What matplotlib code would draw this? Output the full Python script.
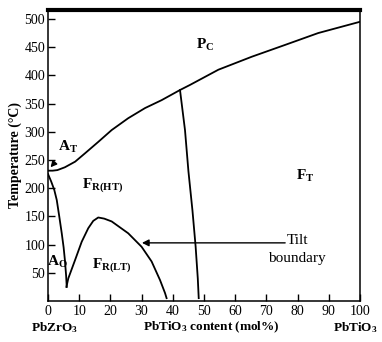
import numpy as np
import matplotlib.pyplot as plt

plt.rcParams['font.family'] = 'Liberation Serif'
plt.rcParams['mathtext.fontset'] = 'custom'
plt.rcParams['mathtext.rm'] = 'Liberation Serif:bold'
plt.rcParams['mathtext.bf'] = 'Liberation Serif:bold'
plt.rcParams['mathtext.it'] = 'Liberation Serif:bold'
plt.rcParams['mathtext.default'] = 'bf'

# phase boundaries (x: mol% PbTiO3, y: temperature in C)
curie_x = [0, 1.5, 3, 5.4, 8.7, 11.9, 16.1, 20.4, 25.7, 31.1, 36.4, 42.3,
           45.5, 54.6, 65.3, 76, 86.6, 100]
curie_y = [231, 231, 232, 237, 247, 262, 282, 303, 324, 342, 356, 374,
           383, 410, 433, 454, 475, 495]

ao_x = [0, 1, 2, 2.8, 3.6, 4.4, 5.0, 5.4, 5.8, 6.0]
ao_y = [225, 212, 197, 179, 150, 120, 95, 73, 45, 25]

tilt_x = [5.9, 6.5, 8.7, 10.8, 12.9, 14.5, 16.1, 18, 20.4, 25.7, 30, 33.2, 35.9, 37.5, 38.0]
tilt_y = [25, 40, 73, 105, 129, 142, 148, 146, 141, 120, 96, 70, 37, 14, 5]

mpb_x = [42.3, 43.9, 45.0, 46.3, 47.3, 48.0, 48.3]
mpb_y = [374, 303, 230, 160, 97, 40, 5]

xticks = np.arange(0, 101, 10)
yticks = np.arange(50, 501, 50)

fig = plt.figure(figsize=(3.82, 3.42), dpi=100)
ax = fig.add_axes([0.1257, 0.12, 0.8168, 0.851])

lw = 1.3
for xs, ys in [(curie_x, curie_y), (ao_x, ao_y), (tilt_x, tilt_y), (mpb_x, mpb_y)]:
    ax.plot(xs, ys, 'k-', lw=lw, solid_joinstyle='round')

ax.set_xlim(0, 100)
ax.set_ylim(0, 516)
ax.set_xticks(xticks)
ax.set_yticks(yticks)
ax.tick_params(direction='in', length=5, width=1, labelsize=10)
ax.tick_params(axis='x', pad=3)
ax.tick_params(axis='y', pad=2)
for s in ['left', 'bottom', 'right']:
    ax.spines[s].set_linewidth(1.1)
ax.spines['top'].set_linewidth(3)

ax.set_ylabel('Temperature (°C)', fontsize=10, fontweight='bold', labelpad=2)

# composition labels under the axis
tr = ax.get_xaxis_transform()
yb = -0.092
ax.text(2, yb, 'PbZrO$_3$', transform=tr, ha='center', va='center',
        fontsize=9.5, fontweight='bold')
ax.text(52.4, yb, 'PbTiO$_3$ content (mol%)', transform=tr, ha='center', va='center',
        fontsize=9.5, fontweight='bold')
ax.text(98.5, yb, 'PbTiO$_3$', transform=tr, ha='center', va='center',
        fontsize=9.5, fontweight='bold')

# phase field labels
fs = 11
lab = dict(ha='center', va='center', fontsize=fs, fontweight='bold')
ax.text(50.3, 454, 'P$_C$', **lab)
ax.text(82.4, 222, 'F$_T$', **lab)
ax.text(17.6, 206, 'F$_{R(HT)}$', **lab)
ax.text(20.5, 64, 'F$_{R(LT)}$', **lab)
ax.text(3.1, 69, 'A$_O$', **lab)
ax.annotate('A$_T$', xy=(0.8, 237), xytext=(6.5, 273), **lab,
            arrowprops=dict(arrowstyle='-|>', color='k', lw=1, shrinkA=6, shrinkB=0,
                            mutation_scale=9))

# tilt boundary arrow
ax.annotate('', xy=(30.1, 103), xytext=(76, 103),
            arrowprops=dict(arrowstyle='-|>', color='k', lw=1, shrinkA=0, shrinkB=0,
                            mutation_scale=10))
ax.text(76.5, 108, 'Tilt', ha='left', va='center', fontsize=11)
ax.text(79.8, 75, 'boundary', ha='center', va='center', fontsize=11)

fig.savefig('out.png', dpi=100)
